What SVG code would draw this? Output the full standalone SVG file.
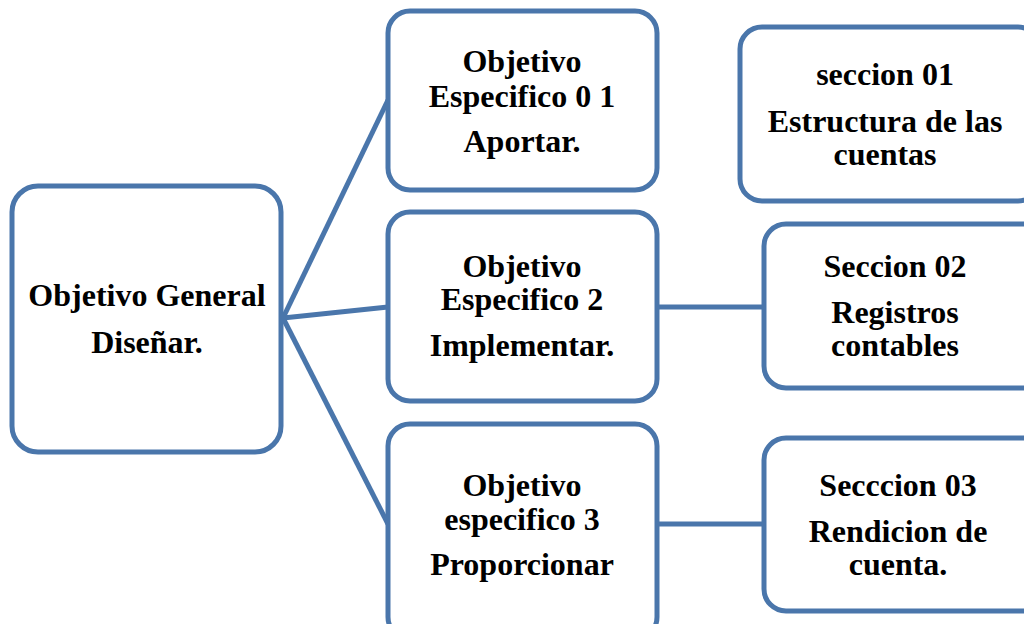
<svg xmlns="http://www.w3.org/2000/svg" width="1024" height="624" viewBox="0 0 1024 624">
<style>
.box{fill:#fff;stroke:#4a76ab;stroke-width:5}
.c{fill:none;stroke:#4a76ab;stroke-width:5}
text{font-family:"Liberation Serif","Times New Roman",serif;font-weight:bold;font-size:32px;fill:#000;text-anchor:middle}
</style>
<rect width="1024" height="624" fill="#fff"/>
<g id="connectors">
<line class="c" x1="283" y1="318" x2="388" y2="100"/>
<line class="c" x1="283" y1="318" x2="388" y2="307"/>
<line class="c" x1="283" y1="318" x2="388" y2="524"/>
<line class="c" x1="657" y1="307" x2="764" y2="307"/>
<line class="c" x1="657" y1="524" x2="764" y2="524"/>
</g>
<g id="general">
<rect class="box" x="12" y="186" width="269" height="266" rx="26"/>
<text x="147" y="306">Objetivo General</text>
<text x="147" y="353">Diseñar.</text>
</g>
<g id="obj1">
<rect class="box" x="388" y="11" width="269" height="179" rx="22"/>
<text x="522" y="72">Objetivo</text>
<text x="522" y="107">Especifico 0 1</text>
<text x="522" y="152">Aportar.</text>
</g>
<g id="obj2">
<rect class="box" x="388" y="212" width="269" height="189" rx="22"/>
<text x="522" y="277">Objetivo</text>
<text x="522" y="310">Especifico 2</text>
<text x="522" y="356">Implementar.</text>
</g>
<g id="obj3">
<rect class="box" x="388" y="424" width="269" height="215" rx="22"/>
<text x="522" y="496">Objetivo</text>
<text x="522" y="530">especifico 3</text>
<text x="522" y="575">Proporcionar</text>
</g>
<g id="sec1">
<rect class="box" x="740" y="27" width="300" height="174" rx="22"/>
<text x="885" y="85">seccion 01</text>
<text x="885" y="132">Estructura de las</text>
<text x="885" y="165">cuentas</text>
</g>
<g id="sec2">
<rect class="box" x="764" y="224" width="290" height="164" rx="22"/>
<text x="895" y="277">Seccion 02</text>
<text x="895" y="323">Registros</text>
<text x="895" y="356">contables</text>
</g>
<g id="sec3">
<rect class="box" x="764" y="438" width="290" height="173" rx="22"/>
<text x="898" y="496">Secccion 03</text>
<text x="898" y="542">Rendicion de</text>
<text x="898" y="575">cuenta.</text>
</g>
</svg>
